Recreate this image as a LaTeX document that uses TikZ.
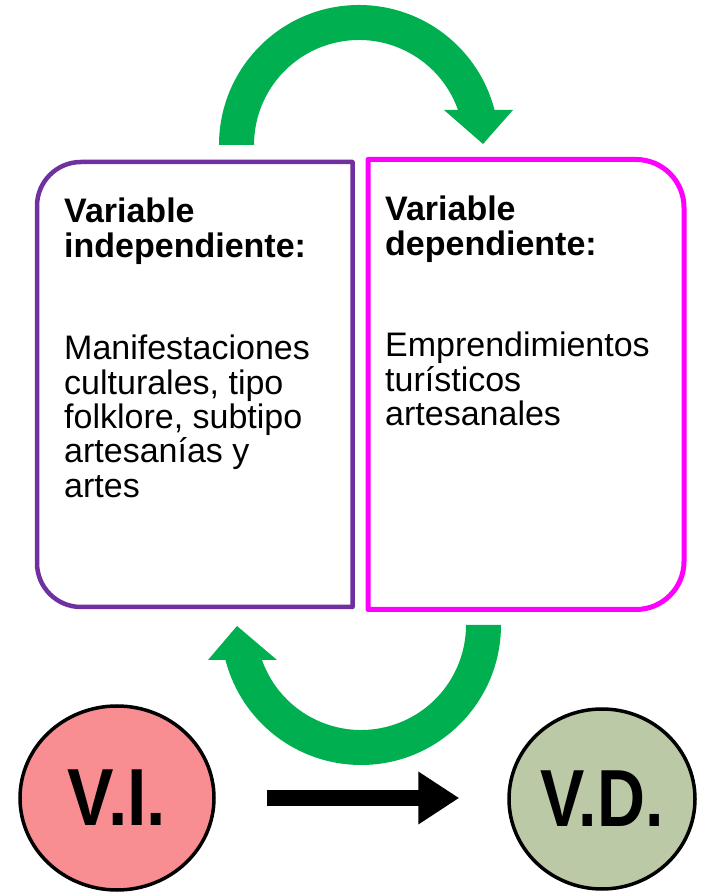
\documentclass[tikz,border=0pt]{standalone}
\usepackage{fontspec}
\setmainfont{Liberation Sans}
\usetikzlibrary{shapes.geometric,arrows.meta}
\definecolor{vgreen}{HTML}{00B050}
\definecolor{vpurple}{HTML}{7030A0}
\definecolor{vmagenta}{HTML}{FF00FF}
\definecolor{vipink}{HTML}{F88E91}
\definecolor{vdgreen}{HTML}{BCC9A6}
\begin{document}
\begin{tikzpicture}[x=1pt,y=1pt,
  leftbox/.style={draw=vpurple,line width=4.5pt,line join=round},
  rightbox/.style={draw=vmagenta,line width=5pt,line join=round},
  txt/.style={inner sep=0pt,anchor=base west,text=black},
  bigarrow/.style={fill=vgreen},
  circ/.style={ellipse,draw=black,line width=3.5pt,inner sep=0pt,
    minimum width=194pt,minimum height=184pt,
    font=\fontsize{81}{81}\selectfont\bfseries},
  linkarrow/.style={line width=16pt,-{Triangle[length=41pt,width=50pt]},
    shorten <=51pt, shorten >=48pt}
]
\useasboundingbox (0,0) rectangle (702,896);
\fill[white] (0,0) rectangle (702,896);

% boxes
\draw[leftbox] (352.5,734) -- (81,734) arc[start angle=90,end angle=180,radius=44]
  -- (37,333) arc[start angle=180,end angle=270,radius=44] -- (352.5,289) -- cycle;
\draw[rightbox] (368,736.5) -- (636,736.5) arc[start angle=90,end angle=0,radius=48]
  -- (684,334.5) arc[start angle=0,end angle=-90,radius=48] -- (368,286.5) -- cycle;

% texts
\node[txt] (hdrL) at (64,673) {\parbox[t]{290pt}{\fontsize{34}{35}\selectfont\bfseries\raggedright Variable\\independiente:}};
\node[txt] (bodyL) at (64,536) {\parbox[t]{290pt}{\fontsize{34}{34.3}\selectfont\raggedright Manifestaciones\\culturales, tipo\\folklore, subtipo\\artesanías y\\artes}};
\node[txt] (hdrR) at (385,675) {\parbox[t]{290pt}{\fontsize{34}{35}\selectfont\bfseries\raggedright Variable\\dependiente:}};
\node[txt] (bodyR) at (385,539) {\parbox[t]{290pt}{\fontsize{34}{34.3}\selectfont\raggedright Emprendimientos\\turísticos\\artesanales}};

% green curved arrows
\fill[bigarrow] (219,751) arc[start angle=180,end angle=14.48,radius=140]
  -- (513,786) -- (483,752) -- (444,786) -- (458,786)
  arc[start angle=19.47,end angle=180,radius=105] -- cycle;
\fill[bigarrow] (501,271) arc[start angle=0,end angle=-165.52,radius=140]
  -- (208,236) -- (237,270) -- (277,236) -- (262,236)
  arc[start angle=-160.53,end angle=0,radius=105] -- cycle;

% circles
\node[circ,fill=vipink] (vi) at (117,98) {\scalebox{0.86}[1]{V.I.}};
\node[circ,fill=vdgreen,minimum width=186pt,minimum height=180pt] (vd) at (602,97) {\scalebox{0.82}[1]{V.D.}};
\draw[linkarrow] (vi.east) -- (vi.east -| vd.west);
\end{tikzpicture}
\end{document}
